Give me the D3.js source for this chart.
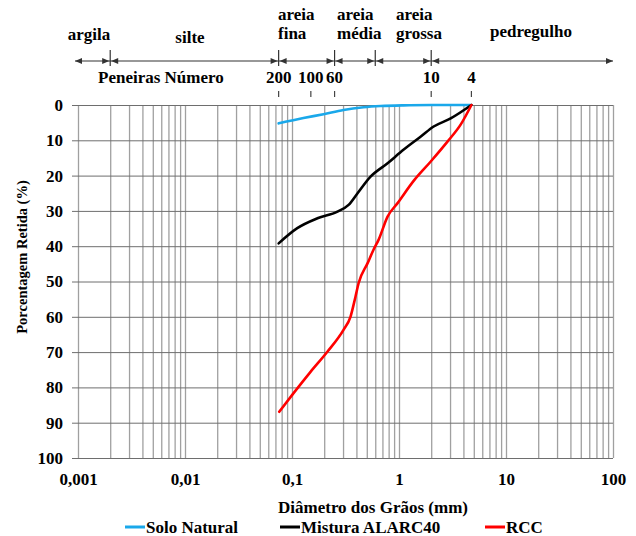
<!DOCTYPE html>
<html>
  <head>
    <meta charset="utf-8">
    <script src="https://d3js.org/d3.v7.min.js"></script>
    <style>
      body { margin: 0; background: #fff; }
      svg text {
        font-family: "Liberation Serif", "Times New Roman", Times, "DejaVu Serif", serif !important;
        font-weight: bold;
        font-size: 17px;
        fill: #000;
      }
      .grid .domain { display: none; }
      .grid--x .tick line { stroke: #a0a0a0; stroke-width: 1.3px; }
      .grid--y .tick line { stroke: #6e6e6e; stroke-width: 1px; }
      svg text.axis__label--y { font-size: 14.5px; }
      .curve { fill: none; stroke-width: 2.6px; stroke-linejoin: round; stroke-linecap: round; }
      .scale-line { stroke: #333; stroke-width: 1.2px; }
    </style>
  </head>
  <body>
    <svg width="636" height="536" font-family="Liberation Serif, serif"></svg>
    <script>
      // curves: diameter (mm) vs. % retained
      const soloDiam = [0.075, 0.128, 0.197, 0.303, 0.466, 0.673, 1.10, 2.0, 4.75];
      const soloPct  = [5.2, 3.7, 2.6, 1.4, 0.65, 0.3, 0.1, 0.02, 0];

      const misturaDiam = [0.075, 0.112, 0.173, 0.266, 0.338, 0.410, 0.542, 0.782, 1.10, 1.59, 2.11, 3.04, 4.75];
      const misturaPct  = [39.2, 34.9, 32.1, 30.2, 28.3, 25.0, 20.3, 16.5, 12.7, 9.0, 6.1, 3.8, 0];

      const rccDiam = [0.076, 0.103, 0.149, 0.214, 0.303, 0.352, 0.392, 0.419, 0.509, 0.578, 0.644, 0.782, 0.970, 1.37, 1.98, 2.85, 3.78, 4.75];
      const rccPct  = [86.9, 81.7, 75.6, 69.9, 63.7, 60.0, 54.3, 50.5, 44.8, 41.0, 38.2, 31.6, 27.8, 21.5, 16.0, 10.3, 5.5, 0];

      const seriesNames = ["Solo Natural", "Mistura ALARC40", "RCC"];
      const seriesColors = ["#1aa8ea", "#000000", "#ff0000"];

      const yTicks = [0, 10, 20, 30, 40, 50, 60, 70, 80, 90, 100];
      const xLabelTicks = [0.001, 0.01, 0.1, 1, 10, 100];

      // soil class limits (mm) and sieve numbers
      const zoneLimits = [0.002, 0.075, 0.25, 0.6, 2.0];
      const sieveLabels = ["200", "100", "60", "10", "4"];
      const sieveDiam = [0.075, 0.15, 0.25, 2.0, 4.75];

      function main(){
        const svg = d3.select("svg");
        const left = 78, right = 613, top = 105, bottom = 458;

        const x = d3.scaleLog().domain([0.001, 100]).range([left, right]);
        const y = d3.scaleLinear().domain([0, 100]).range([top, bottom]);

        // vertical grid + x labels
        const fmt = d => xLabelTicks.includes(d) ? String(d).replace(".", ",") : "";
        const gridValues = [];
        for (let k = -3; k < 2; k++) {
          for (let m = 1; m < 10; m++) gridValues.push(+(m * Math.pow(10, k)).toPrecision(3));
        }
        gridValues.push(100);

        svg.append("g")
            .attr("class", "grid grid--x")
            .attr("transform", `translate(0, ${bottom})`)
            .call(d3.axisBottom(x)
              .tickValues(gridValues)
              .tickSizeInner(-(bottom - top))
              .tickSizeOuter(0)
              .tickPadding(15)
              .tickFormat(fmt));

        // horizontal grid + y labels (lines stick out 6px left)
        svg.append("g")
            .attr("class", "grid grid--y")
            .attr("transform", `translate(${right}, 0)`)
            .call(d3.axisLeft(y)
              .tickValues(yTicks)
              .tickSizeInner(right - left + 6)
              .tickSizeOuter(0)
              .tickPadding(9));

        svg.selectAll(".grid").attr("font-family", null).attr("font-size", null);

        // curves
        const line = d3.line()
          .x(d => x(d[0]))
          .y(d => y(d[1]))
          .curve(d3.curveMonotoneX);

        const series = [
          d3.zip(soloDiam, soloPct),
          d3.zip(misturaDiam, misturaPct),
          d3.zip(rccDiam, rccPct)
        ];

        svg.append("g")
          .selectAll("path")
          .data(series)
          .enter().append("path")
            .attr("class", "curve")
            .attr("stroke", (d, i) => seriesColors[i])
            .attr("d", line);

        // axis titles
        svg.append("text")
            .attr("x", 373)
            .attr("y", 513)
            .attr("text-anchor", "middle")
            .text("Diâmetro dos Grãos (mm)");

        svg.append("text")
            .attr("class", "axis__label--y")
            .attr("transform", "translate(27, 257) rotate(-90)")
            .attr("text-anchor", "middle")
            .text("Porcentagem Retida (%)");

        // legend
        const legendX = [125, 280, 485];
        const legend = svg.append("g")
          .selectAll("g")
          .data(seriesNames)
          .enter().append("g")
            .attr("transform", (d, i) => `translate(${legendX[i]}, 527)`);
        legend.append("line")
            .attr("x1", 0).attr("x2", 20)
            .attr("stroke", (d, i) => seriesColors[i])
            .attr("stroke-width", 3);
        legend.append("text")
            .attr("x", 21)
            .attr("dy", "0.35em")
            .text(d => d);

        // soil classification scale on top
        const top_ = svg.append("g");
        const lineY = 61;
        top_.append("line")
            .attr("class", "scale-line")
            .attr("x1", 75).attr("x2", right)
            .attr("y1", lineY).attr("y2", lineY);

        const head = (tipX, dir) =>
          `M${tipX},${lineY} L${tipX - dir * 7},${lineY - 3} L${tipX - dir * 7},${lineY + 3} Z`;

        top_.append("path").attr("d", head(75, -1)).attr("fill", "#333");
        top_.append("path").attr("d", head(right, 1)).attr("fill", "#333");

        zoneLimits.forEach(v => {
          const bx = x(v);
          top_.append("line")
              .attr("class", "scale-line")
              .attr("x1", bx).attr("x2", bx)
              .attr("y1", 50).attr("y2", 66);
          top_.append("path").attr("d", head(bx - 1, 1)).attr("fill", "#333");
          top_.append("path").attr("d", head(bx + 1, -1)).attr("fill", "#333");
        });

        const zoneText = [
          {lines: ["argila"], x: 89, y: 40, anchor: "middle"},
          {lines: ["silte"], x: 190, y: 43, anchor: "middle"},
          {lines: ["areia", "fina"], x: 278, y: 20, anchor: "start"},
          {lines: ["areia", "média"], x: 337, y: 20, anchor: "start"},
          {lines: ["areia", "grossa"], x: 396, y: 20, anchor: "start"},
          {lines: ["pedregulho"], x: 531, y: 37, anchor: "middle"}
        ];
        zoneText.forEach(z => {
          const t = top_.append("text")
              .attr("x", z.x)
              .attr("y", z.y)
              .attr("text-anchor", z.anchor);
          z.lines.forEach((s, i) => {
            t.append("tspan")
                .attr("x", z.x)
                .attr("dy", i ? 19 : 0)
                .text(s);
          });
        });

        top_.append("text")
            .attr("x", 98)
            .attr("y", 83)
            .text("Peneiras Número");

        sieveDiam.forEach((v, i) => {
          top_.append("text")
              .attr("x", x(v))
              .attr("y", 83)
              .attr("text-anchor", "middle")
              .text(sieveLabels[i]);
          top_.append("line")
              .attr("x1", x(v)).attr("x2", x(v))
              .attr("y1", 91).attr("y2", 97)
              .attr("stroke", "#444")
              .attr("stroke-width", 1.2);
        });
      }
      main();
    </script>
  </body>
</html>
